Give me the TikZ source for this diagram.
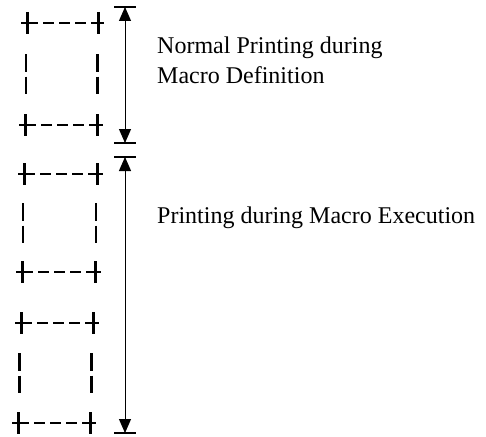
\documentclass[tikz,border=0pt]{standalone}
\usepackage{fontspec}
\setmainfont{Liberation Serif}
\usetikzlibrary{arrows.meta,calc}

\tikzset{
  cross/.style = {line width=3pt},
  arm/.style = {line width=2.5pt},
  crossline/.style = {line width=2.5pt, dash pattern=on 11pt off 5pt},
  sideline/.style = {line width=2.5pt, dash pattern=on 17.5pt off 5pt},
  bar/.style = {line width=1.3pt},
  dimarrow/.style = {line width=1pt, {Triangle[length=14pt,width=12pt]}-{Triangle[length=14pt,width=12pt]}},
  legend/.style = {anchor=base west, inner sep=0pt, font=\fontsize{24}{30}\selectfont}
}

\begin{document}
\begin{tikzpicture}[x=1pt,y=-1pt]
\useasboundingbox (0,0) rectangle (486,436);

% page corners
\foreach \n/\y/\xl/\xr in {1/23/27/98, 2/125/25/97, 3/174/24/97, 4/272/22/95, 5/323/21/93, 6/423/18/90} {
  \coordinate (l\n) at (\xl,\y);
  \coordinate (r\n) at (\xr,\y);
  \draw[crossline] (l\n) -- (r\n);
  \draw[arm] ([xshift=-6pt]l\n) -- ([xshift=6pt]l\n);
  \draw[arm] ([xshift=-6pt]r\n) -- ([xshift=6pt]r\n);
  \draw[cross] ([yshift=11pt]l\n) -- ([yshift=-11pt]l\n);
  \draw[cross] ([yshift=11pt]r\n) -- ([yshift=-11pt]r\n);
}

% page sides
\foreach \a/\b in {1/2, 3/4, 5/6} {
  \draw[sideline] ($(l\a)!0.5!(l\b)+(0,-20)$) -- ($(l\a)!0.5!(l\b)+(0,20)$);
  \draw[sideline] ($(r\a)!0.5!(r\b)+(0,-20)$) -- ($(r\a)!0.5!(r\b)+(0,20)$);
}

% extents
\coordinate (a1) at (125,7);
\coordinate (a2) at (125,143);
\coordinate (a3) at (125,157);
\coordinate (a4) at (125,433);
\foreach \c in {a1,a2,a3,a4}
  \draw[bar] ([xshift=-11pt]\c) -- ([xshift=11pt]\c);
\draw[dimarrow] (a1) -- (a2);
\draw[dimarrow] (a3) -- (a4);

\node[legend] (def1) at (157,53) {Normal Printing during};
\node[legend] (def2) at (157,83) {Macro Definition};
\node[legend] (exec) at (157,223) {Printing during Macro Execution};
\end{tikzpicture}
\end{document}
